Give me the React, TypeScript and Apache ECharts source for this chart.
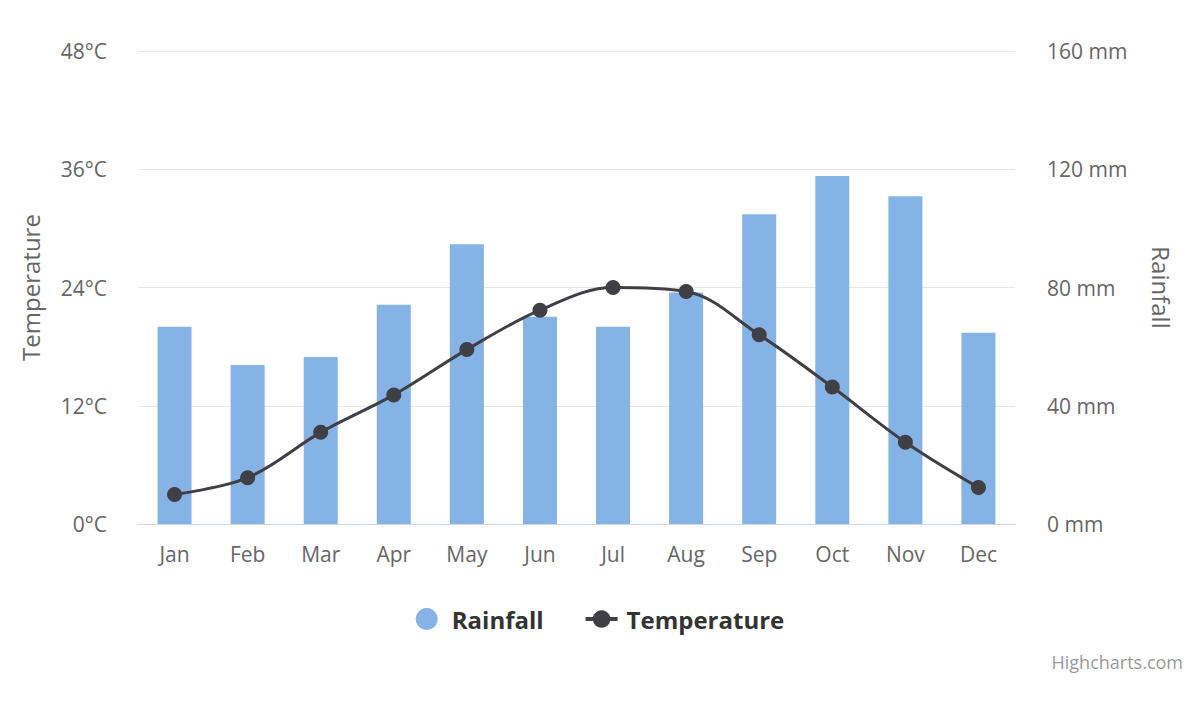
import React, { useEffect, useRef } from "react";
import * as echarts from "echarts";

const months = ["Jan", "Feb", "Mar", "Apr", "May", "Jun", "Jul", "Aug", "Sep", "Oct", "Nov", "Dec"];
const rainfall = [66.7, 53.8, 56.5, 74.2, 94.6, 70.1, 66.7, 78.3, 104.8, 117.7, 110.9, 64.7];
const temperature = [3.0, 4.7, 9.3, 13.1, 17.7, 21.7, 24.0, 23.6, 19.2, 13.9, 8.3, 3.7];

const FONT = "'Open Sans', 'Noto Sans', sans-serif";

export default function App() {
  const ref = useRef<HTMLDivElement>(null);
  useEffect(() => {
    if (!ref.current) return;
    const chart = echarts.init(ref.current, null, { renderer: "svg" });
    chart.setOption({
      animation: false,
      textStyle: { fontFamily: FONT },
      grid: { left: 138, right: 185, top: 51, bottom: 180, containLabel: false },
      legend: {
        bottom: 68,
        left: "center",
        itemGap: 40,
        itemWidth: 32,
        itemHeight: 22,
        textStyle: { fontSize: 24, fontWeight: "bold", color: "#333333", fontFamily: FONT, padding: [0, 0, 0, 4] },
        data: [
          { name: "Rainfall", icon: "circle" },
          { name: "Temperature", lineStyle: { width: 4 } },
        ],
      },
      xAxis: {
        type: "category",
        data: months,
        axisLine: { lineStyle: { color: "#ccd6eb", width: 1 } },
        axisTick: { show: false },
        axisLabel: { color: "#666666", fontSize: 21, margin: 19, fontFamily: FONT },
      },
      yAxis: [
        {
          type: "value",
          min: 0,
          max: 48,
          interval: 12,
          position: "left",
          name: "Temperature",
          nameLocation: "middle",
          nameGap: 96,
          nameRotate: 90,
          nameTextStyle: { color: "#666666", fontSize: 24, fontFamily: FONT },
          axisLabel: { formatter: "{value}°C", color: "#666666", fontSize: 21, margin: 31, fontFamily: FONT },
          splitLine: { lineStyle: { color: "#e6e6e6", width: 1 } },
          axisLine: { show: false },
          axisTick: { show: false },
        },
        {
          type: "value",
          min: 0,
          max: 160,
          interval: 40,
          position: "right",
          name: "Rainfall",
          nameLocation: "middle",
          nameGap: 134,
          nameRotate: -90,
          nameTextStyle: { color: "#666666", fontSize: 24, fontFamily: FONT },
          axisLabel: { formatter: "{value} mm", color: "#666666", fontSize: 21, margin: 32, fontFamily: FONT },
          splitLine: { show: false },
          axisLine: { show: false },
          axisTick: { show: false },
        },
      ],
      series: [
        {
          name: "Rainfall",
          type: "bar",
          yAxisIndex: 1,
          data: rainfall,
          barWidth: 34,
          itemStyle: { color: "#86b3e6" },
        },
        {
          name: "Temperature",
          type: "line",
          yAxisIndex: 0,
          data: temperature,
          smooth: 0.35,
          symbol: "circle",
          symbolSize: 15,
          lineStyle: { color: "#403f45", width: 3 },
          itemStyle: { color: "#403f45" },
        },
      ],
      graphic: [
        {
          type: "text",
          right: 17,
          top: 653,
          style: { text: "Highcharts.com", fill: "#999999", fontSize: 18, fontFamily: FONT },
        },
      ],
    });
    return () => chart.dispose();
  }, []);
  return <div ref={ref} style={{ width: 1200, height: 704, position: "absolute", left: 0, top: 0 }} />;
}
